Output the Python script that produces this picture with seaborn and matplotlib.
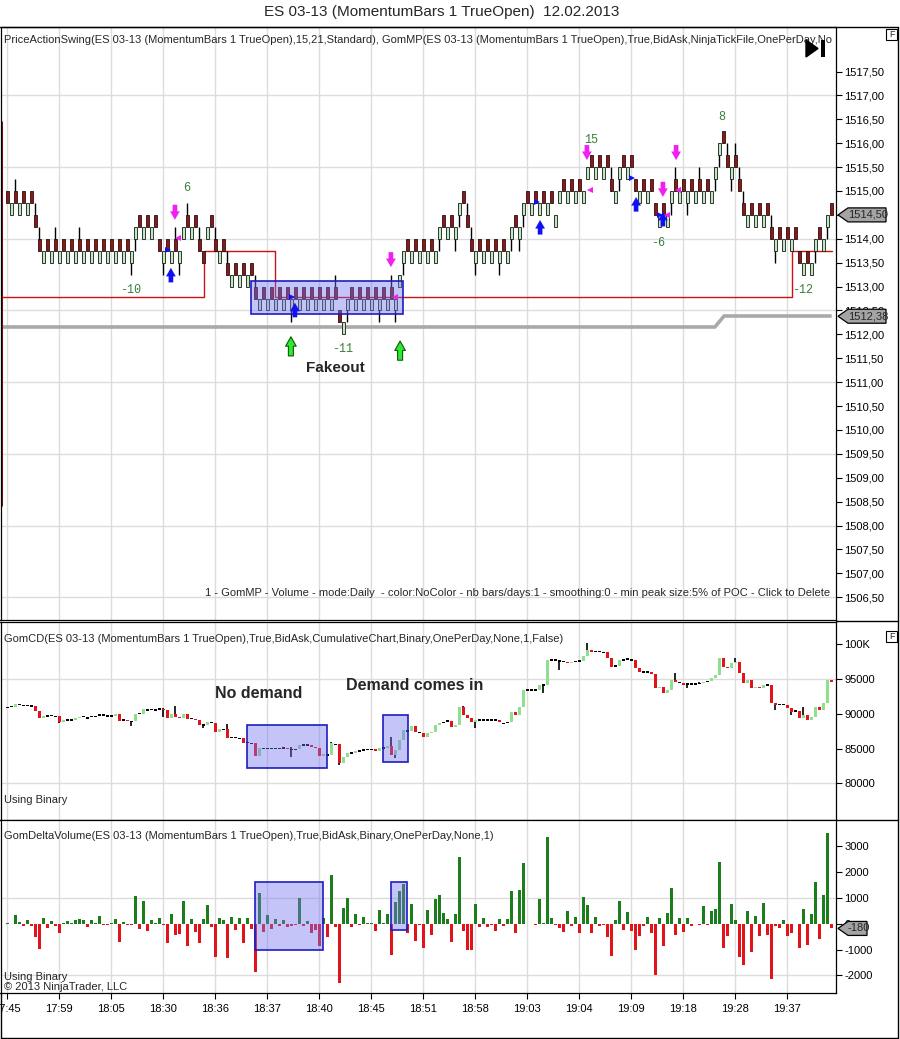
import numpy as np
import pandas as pd
import matplotlib
matplotlib.use("Agg")
import matplotlib.pyplot as plt
from matplotlib.patches import Polygon, Rectangle
from matplotlib.lines import Line2D
import seaborn as sns

# ------------------------------------------------------------------ data
time_labels = ["17:45", "17:59", "18:05", "18:30", "18:36", "18:37", "18:40", "18:45",
               "18:51", "18:58", "19:03", "19:04", "19:09", "19:18", "19:28", "19:37"]
label_step = 13

# momentum bars: 1 = up (green), 0 = down (red); body is one tick (0.25)
price_up = [0,1,0,1,0,1,0,0,0,1, 0,1,0,1,0,1,0,1,0,1, 0,1,0,1,0,1,0,1,0,1,
            0,1,1,0,1,0,1,0,0,1, 0,1,0,1,1,0,1,0,0,0, 1,0,0,1,0,0,1,0,1,0,
            1,0,0,1,0,1,0,1,0,1, 0,1,0,1,0,1,0,1,0,1, 0,1,0,0,1,1,0,1,0,1,
            0,1,0,1,0,1,0,1,1,1, 0,1,0,1,0,1,0,1,1,0, 1,0,1,1,0,0,0,1,0,1,
            0,1,0,1,0,1,1,0,1,1, 0,1,0,1,0,1,0,1,1,0, 1,0,1,0,1,1,0,1,0,1,
            0,0,1,1,0,1,0,0,1,0, 1,0,0,1,0,1,1,0,1,0, 1,0,1,0,1,0,1,1,1,0,
            0,1,0,0,0,1,0,1,0,1, 0,0,1,0,1,0,1,0,0,1, 0,1,1,0,1,1,0]
price_body_low = [
    1514.75,1514.5,1514.75,1514.5,1514.75,1514.5,1514.75,1514.25,1513.75,1513.5,
    1513.75,1513.5,1513.75,1513.5,1513.75,1513.5,1513.75,1513.5,1513.75,1513.5,
    1513.75,1513.5,1513.75,1513.5,1513.75,1513.5,1513.75,1513.5,1513.75,1513.5,
    1513.75,1513.5,1514.0,1514.25,1514.0,1514.25,1514.0,1514.25,1513.75,1513.5,
    1513.75,1513.5,1513.75,1513.5,1514.0,1514.25,1514.0,1514.25,1513.75,1513.5,
    1514.0,1514.25,1513.75,1513.5,1513.75,1513.25,1513.0,1513.25,1513.0,1513.25,
    1513.0,1513.25,1512.75,1512.5,1512.75,1512.5,1512.75,1512.5,1512.75,1512.5,
    1512.75,1512.5,1512.75,1512.5,1512.75,1512.5,1512.75,1512.5,1512.75,1512.5,
    1512.75,1512.5,1512.75,1512.25,1512.0,1512.5,1512.75,1512.5,1512.75,1512.5,
    1512.75,1512.5,1512.75,1512.5,1512.75,1512.5,1512.75,1512.5,1513.0,1513.5,
    1513.75,1513.5,1513.75,1513.5,1513.75,1513.5,1513.75,1513.5,1514.0,1514.25,
    1514.0,1514.25,1514.0,1514.5,1514.75,1514.25,1513.75,1513.5,1513.75,1513.5,
    1513.75,1513.5,1513.75,1513.5,1513.75,1513.5,1514.0,1514.25,1514.0,1514.5,
    1514.75,1514.5,1514.75,1514.5,1514.75,1514.5,1514.75,1514.25,1514.75,1515.0,
    1514.75,1515.0,1514.75,1515.0,1514.75,1515.25,1515.5,1515.25,1515.5,1515.25,
    1515.5,1515.0,1514.75,1515.25,1515.5,1515.25,1515.5,1515.0,1514.75,1515.0,
    1514.75,1515.0,1514.5,1514.25,1514.5,1514.25,1514.75,1515.0,1514.75,1515.0,
    1514.75,1515.0,1514.75,1515.0,1514.75,1515.0,1514.75,1515.25,1515.75,1516.0,
    1515.5,1515.25,1515.5,1515.0,1514.5,1514.25,1514.5,1514.25,1514.5,1514.25,
    1514.5,1514.0,1513.75,1514.0,1513.75,1514.0,1513.75,1514.0,1513.5,1513.25,
    1513.5,1513.25,1513.75,1514.0,1513.75,1514.25,1514.5]
tick_size = 0.25
price_wick_high = [(2,1515.25),(7,1514.75),(8,1514.25),(12,1514.25),(18,1514.25),(42,1514.25),
                   (45,1514.75),(48,1514.25),(52,1514.25),(55,1513.75),(62,1513.25),(82,1513.25),
                   (96,1513.25),(115,1514.75),(116,1514.25),(151,1515.5),(167,1515.5),(173,1515.5),
                   (180,1516.0),(182,1516.0),(183,1515.5),(184,1515.0),(191,1514.5)]
price_wick_low = [(31,1513.25),(32,1513.75),(39,1513.25),(43,1513.25),(71,1512.25),(85,1512.25),
                  (93,1512.25),(97,1512.25),(99,1513.25),(108,1513.75),(112,1513.75),(113,1514.25),
                  (117,1513.25),(123,1513.25),(126,1513.75),(128,1513.75),(129,1514.25),(153,1515.0),
                  (166,1514.5),(170,1514.5),(177,1515.0),(178,1515.5),(181,1515.0),(192,1513.5),
                  (202,1513.5),(205,1514.0)]

swing_x = [-1.7, 49.2, 49.2, 66.9, 66.9, 196.1, 196.1, 206.1]
swing_y = [1512.78, 1512.78, 1513.75, 1513.75, 1512.78, 1512.78, 1513.75, 1513.75]
poc_x = [-1.7, 176.9, 179.2, 206.1]
poc_y = [1512.155, 1512.155, 1512.385, 1512.385]
profile_edge_y = [1508.43, 1516.44]
price_box = (60.9, 98.9, 1512.43, 1513.12)

swing_labels = ["-10", "6", "-11", "15", "8", "-6", "-12"]
swing_label_bar = [30.9, 44.9, 83.9, 145.9, 178.7, 162.7, 198.9]
swing_label_price = [1512.93, 1515.06, 1511.69, 1516.07, 1516.55, 1513.91, 1512.93]

sell_arrow_bar = [41.9, 95.9, 144.9, 167.2, 163.9]
sell_arrow_top = [1514.71, 1513.72, 1515.96, 1515.96, 1515.19]
buy_arrow_bar = [40.9, 71.9, 133.2, 157.2, 163.9]
buy_arrow_top = [1513.39, 1512.66, 1514.39, 1514.87, 1514.56]
green_arrow_bar = [70.9, 98.2]
green_arrow_top = [1511.95, 1511.86]
left_tri_bar = [42.7, 96.9, 145.7, 164.9, 167.7]
left_tri_price = [1514.02, 1512.78, 1515.02, 1514.50, 1515.02]
right_tri_bar = [40.2, 71.2, 132.4, 156.2, 163.2]
right_tri_price = [1513.77, 1512.78, 1514.77, 1515.27, 1514.50]

cd_first_open = 90800
cd_close = [
    90900,91020,91370,91330,91230,91200,91150,90450,89440,89730,
    89700,89730,89620,88770,89100,89100,89100,89350,89590,89590,
    89400,89590,89650,89830,89850,89700,89700,89900,89000,89100,
    88900,88900,90000,90000,90650,90550,90600,90550,90710,90500,
    89460,89970,89600,89350,89970,89200,89300,89100,88390,88400,
    88860,88720,87430,87770,87770,86470,86560,86560,86470,85750,
    85850,85750,83930,85040,85000,85000,85000,85000,85000,85100,
    84900,84850,84900,85510,85510,85510,85270,85040,83930,84200,
    84070,85750,85600,82870,83740,84310,84360,84640,84640,84790,
    84840,84880,84640,85070,85070,85300,84070,84790,86230,87670,
    87520,88240,87430,87300,86600,87200,87430,88390,88630,88770,
    88960,88140,88390,91020,89830,89350,88770,89110,89110,89110,
    89110,89100,89110,88770,88630,88770,90210,89830,91020,93420,
    93420,93420,93420,94140,94140,97740,97740,97740,97600,97500,
    97270,97500,97500,97600,98360,99180,98940,98940,98940,98850,
    98070,96780,96900,97740,97740,97890,97740,96540,96060,95990,
    95990,95700,93670,93900,92950,93420,94860,94620,94500,94200,
    94300,94300,94300,94400,94620,94650,95110,95590,97985,96780,
    96540,97260,97500,95830,94390,94860,93670,93900,93670,94140,
    94150,91510,91270,91300,91300,90790,90310,90400,89350,89830,
    89110,89590,91020,90550,91510,94860,94620]
cd_wick_high = [(39,90850),(42,91190),(55,88530),(71,85270),(81,85990),(96,86700),(114,91160),
                (138,97740),(145,100140),(167,95830),(173,94620),(182,97985),(199,91020)]
cd_wick_low = [(13,88630),(31,88290),(39,89500),(42,89700),(49,88000),(71,83830),(83,82630),
               (97,83590),(117,87910),(134,92950),(138,96300),(145,98600),(170,93670),
               (192,90550),(196,89830)]
cd_boxes = [(59.9, 79.9, 82201, 88389), (93.9, 100.2, 83065, 89827)]

delta_volume = [
    50,0,330,60,-100,130,-100,-520,-980,230,
    -170,100,-100,-370,20,100,20,160,200,150,
    -120,150,20,300,-30,-30,20,170,-720,60,
    -40,-60,1060,-200,870,-280,130,20,220,-50,
    -760,390,-420,-400,900,-850,170,-320,-760,170,
    720,-120,-1290,230,160,-1320,260,-230,230,-760,
    210,-200,-1870,1200,-300,330,-190,170,-80,130,
    -120,-70,-60,1000,-100,120,-370,-230,-850,220,
    -500,1880,-120,-2300,600,990,-120,370,-50,250,
    20,20,-290,520,20,390,-1200,850,1280,1550,
    -370,780,-680,-50,-920,540,-450,970,1110,410,
    200,-720,370,2600,-260,-1030,-1030,780,-140,220,
    -130,-30,-260,190,-70,190,1280,-340,1320,2370,
    0,-20,-40,970,20,3360,220,-30,-170,-320,
    500,-70,280,-340,1030,740,-340,260,-100,-40,
    -520,-1230,150,890,-230,450,-260,-1030,-490,-100,
    280,-370,-1980,220,-880,410,1380,-450,220,-320,
    220,-100,-20,-30,700,-40,500,570,2390,-920,
    -490,780,150,-1300,-1590,500,-1110,310,-490,800,
    -450,-2130,-80,-170,150,-490,-370,-20,-920,570,
    -810,370,1620,-590,1110,3510,-180]
delta_boxes = [(61.9, 78.9, -1015, 1620), (95.9, 99.9, -240, 1620)]

price_ticks = [1506.5 + 0.5 * k for k in range(23)]
price_grid = [1506.5 + 1.5 * k for k in range(8)]
cd_ticks = [80000, 85000, 90000, 95000, 100000]
cd_tick_labels = ["80000", "85000", "90000", "95000", "100K"]
cd_grid = [80000, 95000]
delta_ticks = [-2000, -1000, 0, 1000, 2000, 3000]
delta_grid = [-2000, 1000]
last_price = 1514.50
poc_value = 1512.38
last_delta = -180

# ------------------------------------------------------------------ style
sns.set_theme(style="white")
plt.rcParams["font.family"] = ["Liberation Sans", "DejaVu Sans"]

W, H = 900, 1039
fig = plt.figure(figsize=(W / 100, H / 100), dpi=100, facecolor="white")


def fx(x):
    return x / W


def fy(y):
    return 1 - y / H


AX_L, AX_R = 0.5, 836.0
XLIM = ((AX_L - 7.3) / 4, (AX_R - 7.3) / 4)


def make_ax(top, bottom):
    return fig.add_axes([fx(AX_L), fy(bottom), (AX_R - AX_L) / W, (bottom - top) / H])


ax1 = make_ax(27, 620)
ax2 = make_ax(621.5, 819.5)
ax3 = make_ax(820, 993.3)

GRID = "#dcdcdc"
n = len(price_up)
idx = np.arange(n)
vgrid = np.arange(len(time_labels)) * label_step

for ax in (ax1, ax2, ax3):
    ax.set_facecolor("white")
    ax.set_xlim(*XLIM)
    for v in vgrid:
        ax.axvline(v, color=GRID, lw=1, zorder=0)
    for s in ax.spines.values():
        s.set_color("black")
        s.set_linewidth(0.9)
    ax.yaxis.tick_right()
    ax.tick_params(axis="y", direction="out", length=4, width=0.8, labelsize=8, pad=2,
                   colors="black", right=True, left=False)

# ------------------------------------------------------------------ price panel
ax1.set_ylim(1506.025, 1518.431)
for g in price_grid:
    ax1.axhline(g, color=GRID, lw=1, zorder=0)

up = np.array(price_up)
blo = np.array(price_body_low)
bhi = blo + tick_size
hi = bhi.copy()
lo = blo.copy()
for i, v in price_wick_high:
    hi[i] = v
for i, v in price_wick_low:
    lo[i] = v

ax1.plot(poc_x, poc_y, color="#a9a9a9", lw=2.6, zorder=1, solid_capstyle="butt")
ax1.plot(swing_x, swing_y, color="#d01010", lw=1.0, zorder=1)
ax1.plot([XLIM[0] + 0.15] * 2, profile_edge_y, color="#8b1010", lw=2.2, zorder=1)

ax1.vlines(idx, lo, hi, color="black", lw=1.0, zorder=2)
ax1.bar(idx, tick_size, bottom=blo, width=0.62,
        color=np.where(up == 1, "#bfeabf", "#9c1212"),
        edgecolor="#1a1a1a", linewidth=0.6, zorder=3)

bx0, bx1, by0, by1 = price_box
ax1.add_patch(Rectangle((bx0, by0), bx1 - bx0, by1 - by0, facecolor=(0.45, 0.45, 0.95, 0.42),
                        edgecolor="#1c1cc0", lw=1.2, zorder=4))


def arrow(ax, x, top, length, color, edge=None, down=False, scale=8):
    if down:
        xy, xyt = (x, top - length), (x, top)
    else:
        xy, xyt = (x, top), (x, top - length)
    ax.annotate("", xy=xy, xytext=xyt, zorder=6,
                arrowprops=dict(arrowstyle="simple,head_length=0.75,head_width=0.85,tail_width=0.4",
                                fc=color, ec=edge if edge else color, lw=0.8 if edge else 0.1,
                                shrinkA=0, shrinkB=0, mutation_scale=scale))


for x, t in zip(sell_arrow_bar, sell_arrow_top):
    arrow(ax1, x, t, 0.31, "#f020f0", down=True)
for x, t in zip(buy_arrow_bar, buy_arrow_top):
    arrow(ax1, x, t, 0.30, "#1010f0")
for x, t in zip(green_arrow_bar, green_arrow_top):
    arrow(ax1, x, t, 0.40, "#30e830", edge="#0a5a0a", scale=9)
ax1.plot(left_tri_bar, left_tri_price, ls="none", marker="<", ms=5, color="#f020f0", mew=0, zorder=6)
ax1.plot(right_tri_bar, right_tri_price, ls="none", marker=">", ms=5, color="#1010f0", mew=0, zorder=6)

for lab, x, y in zip(swing_labels, swing_label_bar, swing_label_price):
    ax1.text(x, y, lab, color="#3a7d3a", fontsize=8.5, family=["Liberation Mono", "DejaVu Sans Mono"],
             ha="center", va="center", zorder=7)
ax1.text(81.9, 1511.30, "Fakeout", fontsize=11, fontweight="bold", ha="center", va="center", zorder=7)

ax1.set_yticks(price_ticks)
ax1.set_yticklabels([f"{v:.2f}".replace(".", ",") for v in price_ticks])
ax1.set_xticks([])

ax1.text((4 - AX_L) / (AX_R - AX_L), (620 - 40) / 593,
         "PriceActionSwing(ES 03-13 (MomentumBars 1 TrueOpen),15,21,Standard), "
         "GomMP(ES 03-13 (MomentumBars 1 TrueOpen),True,BidAsk,NinjaTickFile,OnePerDay,No",
         transform=ax1.transAxes, fontsize=8, ha="left", va="center", clip_on=True, zorder=8)
ax1.text((830 - AX_L) / (AX_R - AX_L), (620 - 593) / 593,
         "1 - GomMP - Volume - mode:Daily  - color:NoColor - nb bars/days:1 - smoothing:0 - "
         "min peak size:5% of POC - Click to Delete",
         transform=ax1.transAxes, fontsize=8, ha="right", va="center", zorder=8)

# ------------------------------------------------------------------ cumulative delta panel
ax2.set_ylim(74791, 103281)
for g in cd_grid:
    ax2.axhline(g, color=GRID, lw=1, zorder=0)
cdc = np.array(cd_close, dtype=float)
cdo = np.concatenate([[cd_first_open], cdc[:-1]])
diff = cdc - cdo
small = np.abs(diff) < 200
cd_col = np.where(small, "black", np.where(diff > 0, "#8fdf8f", "#e3131b"))
cd_bottom = np.where(small, cdc - 100, np.minimum(cdo, cdc))
cd_height = np.where(small, 200, np.abs(diff))
for i, v in cd_wick_high:
    ax2.vlines(i, max(cdo[i], cdc[i]), v, color="black", lw=1.2, zorder=2)
for i, v in cd_wick_low:
    ax2.vlines(i, v, min(cdo[i], cdc[i]), color="black", lw=1.2, zorder=2)
ax2.bar(idx, cd_height, bottom=cd_bottom, width=0.72, color=cd_col, linewidth=0, zorder=3)
for (x0, x1, y0, y1) in cd_boxes:
    ax2.add_patch(Rectangle((x0, y0), x1 - x0, y1 - y0, facecolor=(0.45, 0.45, 0.95, 0.42),
                            edgecolor="#1c1cc0", lw=1.2, zorder=4))
ax2.set_yticks(cd_ticks)
ax2.set_yticklabels(cd_tick_labels)
ax2.set_xticks([])

# ------------------------------------------------------------------ delta volume panel
dv = np.array(delta_volume)
df = pd.DataFrame({"bar": idx, "delta": dv, "side": np.where(dv >= 0, "buy", "sell")})
sns.barplot(data=df, x="bar", y="delta", hue="side", palette={"buy": "#1d7d1d", "sell": "#e3131b"},
            native_scale=True, dodge=False, width=0.75, errorbar=None, legend=False,
            saturation=1, linewidth=0, ax=ax3, zorder=2)
ax3.set_xlim(*XLIM)
ax3.set_ylim(-2694, 4023)
for g in delta_grid:
    ax3.axhline(g, color=GRID, lw=1, zorder=0)
for (x0, x1, y0, y1) in delta_boxes:
    ax3.add_patch(Rectangle((x0, y0), x1 - x0, y1 - y0, facecolor=(0.45, 0.45, 0.95, 0.42),
                            edgecolor="#1c1cc0", lw=1.2, zorder=4))
ax3.set_xlabel("")
ax3.set_ylabel("")
ax3.set_yticks(delta_ticks)
ax3.set_yticklabels([str(v) for v in delta_ticks])
ax3.set_xticks(vgrid)
ax3.set_xticklabels(time_labels)
ax3.tick_params(axis="x", direction="out", length=4, width=0.8, labelsize=8, pad=4,
                colors="black", bottom=True)
for ax in (ax1, ax2):
    ax.set_xlabel("")
    ax.set_ylabel("")

# ------------------------------------------------------------------ figure-level decorations
fig.text(fx(442), fy(12), "ES 03-13 (MomentumBars 1 TrueOpen)  12.02.2013", fontsize=11,
         ha="center", va="center")
fig.text(fx(4), fy(639), "GomCD(ES 03-13 (MomentumBars 1 TrueOpen),True,BidAsk,CumulativeChart,"
         "Binary,OnePerDay,None,1,False)", fontsize=8, ha="left", va="center")
fig.text(fx(4), fy(800), "Using Binary", fontsize=8, ha="left", va="center")
fig.text(fx(4), fy(836), "GomDeltaVolume(ES 03-13 (MomentumBars 1 TrueOpen),True,BidAsk,Binary,"
         "OnePerDay,None,1)", fontsize=8, ha="left", va="center")
fig.text(fx(4), fy(977), "Using Binary", fontsize=8, ha="left", va="center")
fig.text(fx(4), fy(987), "\u00a9 2013 NinjaTrader, LLC", fontsize=8, ha="left", va="center")
fig.text(fx(259), fy(694), "No demand", fontsize=11.5, fontweight="bold", ha="center", va="center")
fig.text(fx(415), fy(685), "Demand comes in", fontsize=11.5, fontweight="bold", ha="center", va="center")

for (xa, ya, xb, yb) in [(0.5, 27, 898, 27), (836, 621, 898, 621), (836, 819.5, 898, 819.5),
                         (898, 27, 898, 1038), (0.5, 1038, 898, 1038), (0.5, 993, 0.5, 1038)]:
    fig.add_artist(Line2D([fx(xa), fx(xb)], [fy(ya), fy(yb)], color="black", lw=1.0))


def value_tag(y, text, x_end):
    pts = [(838, y), (848, y - 7), (x_end, y - 7), (x_end, y + 7), (848, y + 7)]
    fig.add_artist(Polygon([(fx(a), fy(b)) for a, b in pts], closed=True, facecolor="#a4a4a4",
                           edgecolor="black", lw=0.9, transform=fig.transFigure, zorder=5))
    fig.text(fx((848 + x_end) / 2 + 1), fy(y), text, fontsize=8, ha="center", va="center", zorder=6)


def price_y(p):
    return 191 + (1515.0 - p) * 47.8


value_tag(price_y(last_price), f"{last_price:.2f}".replace(".", ","), 886)
value_tag(price_y(poc_value), f"{poc_value:.2f}".replace(".", ","), 886)
value_tag(923.8 - last_delta * 0.0258, str(last_delta), 867)

for yb in (29, 631):
    fig.add_artist(Rectangle((fx(886), fy(yb + 11)), 11 / W, 11 / H, facecolor="white",
                             edgecolor="black", lw=0.8, transform=fig.transFigure, zorder=5))
    fig.text(fx(891.5), fy(yb + 5.5), "F", fontsize=6.5, ha="center", va="center", zorder=6)

fig.add_artist(Polygon([(fx(806), fy(40)), (fx(806), fy(57)), (fx(818), fy(48.5))], closed=True,
                       facecolor="black", edgecolor="black", transform=fig.transFigure, zorder=5))
fig.add_artist(Rectangle((fx(821), fy(57)), 4 / W, 17 / H, facecolor="black", edgecolor="none",
                         transform=fig.transFigure, zorder=5))

fig.savefig("out.png", dpi=100, facecolor="white")
